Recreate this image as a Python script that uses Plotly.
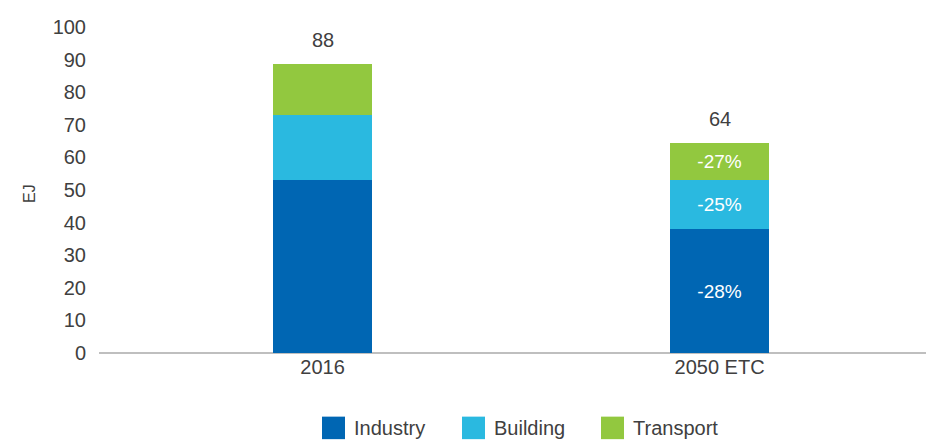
import plotly.graph_objects as go

categories = ["2016", "2050 ETC"]
series_names = ["Industry", "Building", "Transport"]
industry = [53, 38]
building = [20, 15]
transport = [15.5, 11.4]
change_labels = {
    "Industry": ["", "-28%"],
    "Building": ["", "-25%"],
    "Transport": ["", "-27%"],
}
colors = {"Industry": "#0066B3", "Building": "#2AB9E0", "Transport": "#92C83F"}
values = {"Industry": industry, "Building": building, "Transport": transport}
totals = [i + b + t for i, b, t in zip(industry, building, transport)]

FONT = "Liberation Sans"
TXT = "#404040"

# page has an 8px body margin; compensate
OFF = 8
PL, PT, PW, PH = 99 - OFF, 20 - OFF, 835, 333


def px(sx):
    return (sx - OFF - PL) / PW


def py(sy):
    return (PT + PH - (sy - OFF)) / PH


fig = go.Figure()
for name in series_names:
    fig.add_trace(go.Bar(
        x=categories, y=values[name], name=name,
        marker=dict(color=colors[name], line=dict(width=0)),
        width=0.25,
        text=change_labels[name], textposition="inside",
        insidetextanchor="middle",
        textfont=dict(family=FONT, size=19, color="white"),
        showlegend=False,
    ))

annotations = []
for i, t in enumerate(totals):
    annotations.append(dict(x=i, y=t, xref="x", yref="y", text=f"{int(t)}",
                            showarrow=False, yanchor="bottom", yshift=11,
                            font=dict(family=FONT, size=20, color=TXT)))

# legend (manual, large squares)
shapes = []
leg_x = [322, 462, 601]
for name, lx in zip(series_names, leg_x):
    shapes.append(dict(type="rect", xref="paper", yref="paper",
                       x0=px(lx), x1=px(lx + 23),
                       y0=py(441), y1=py(418),
                       fillcolor=colors[name], line=dict(width=0)))
    annotations.append(dict(xref="paper", yref="paper",
                            x=px(lx + 30), y=py(430),
                            text=name, showarrow=False, xanchor="left",
                            yanchor="middle",
                            font=dict(family=FONT, size=20, color=TXT)))

fig.update_layout(
    barmode="stack",
    width=934, height=440,
    margin=dict(l=PL, r=934 - PL - PW, t=PT, b=440 - PT - PH),
    paper_bgcolor="white", plot_bgcolor="white",
    showlegend=False,
    annotations=annotations,
    shapes=shapes,
    xaxis=dict(type="category", range=[-0.563, 1.54], showgrid=False,
               zeroline=False, showline=False, ticks="",
               tickfont=dict(family=FONT, size=20, color=TXT)),
    yaxis=dict(range=[0, 100], dtick=10, showgrid=False, zeroline=True,
               zerolinecolor="#BFBFBF", zerolinewidth=1.5,
               showline=False, ticks="", ticklabelstandoff=12,
               tickfont=dict(family=FONT, size=20, color=TXT)),
)
fig.add_annotation(xref="paper", yref="paper", x=px(19), y=py(190),
                   text="EJ", textangle=-90, showarrow=False,
                   font=dict(family=FONT, size=16, color=TXT))

fig.write_html("out.html")
